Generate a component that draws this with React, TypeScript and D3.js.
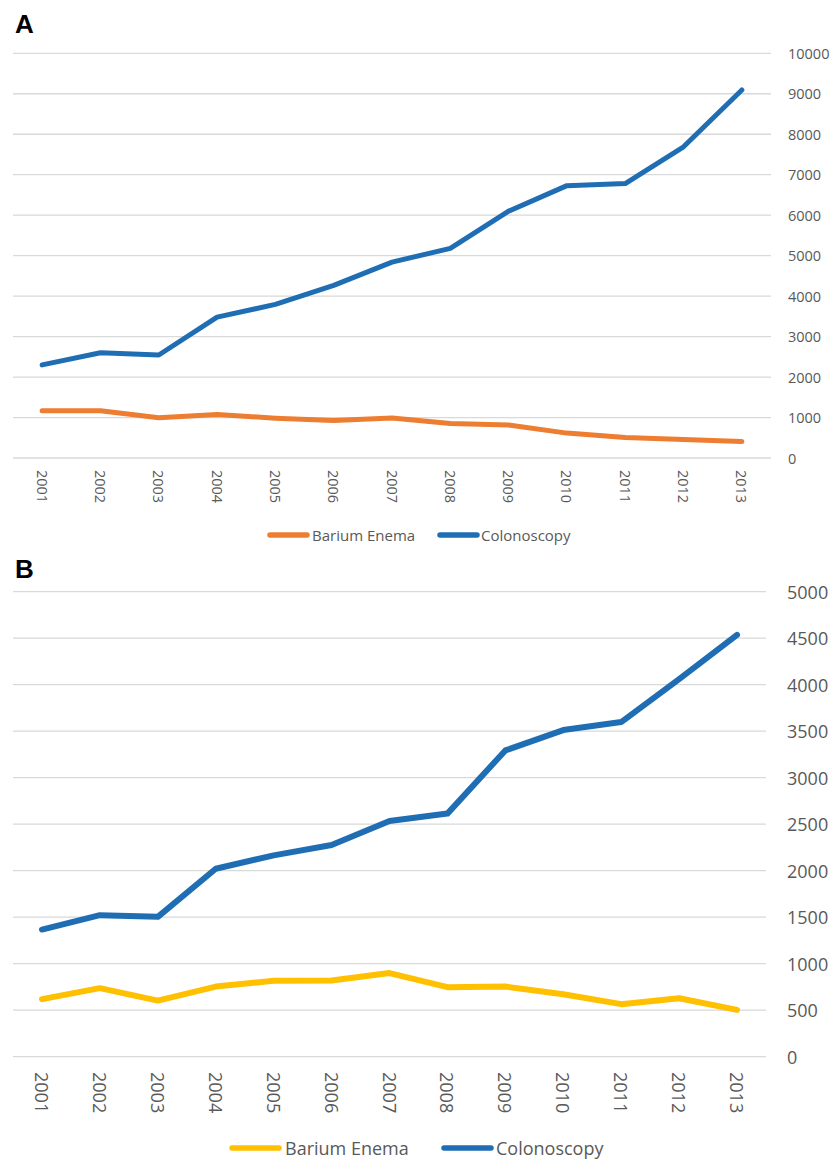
import React from "react";
import * as d3 from "d3";

const years = ["2001","2002","2003","2004","2005","2006","2007","2008","2009","2010","2011","2012","2013"];

const colonoscopyA = [2300, 2600, 2545, 3480, 3795, 4265, 4840, 5180, 6100, 6730, 6780, 7690, 9095];
const bariumA = [1165, 1165, 995, 1075, 985, 925, 990, 850, 815, 615, 505, 460, 405];

const colonoscopyB = [1367, 1522, 1504, 2021, 2165, 2276, 2534, 2614, 3293, 3512, 3598, 4060, 4536];
const bariumB = [619, 737, 603, 754, 816, 819, 899, 748, 754, 672, 565, 629, 503];

const ticksA = [0, 1000, 2000, 3000, 4000, 5000, 6000, 7000, 8000, 9000, 10000];
const ticksB = [0, 500, 1000, 1500, 2000, 2500, 3000, 3500, 4000, 4500, 5000];

const BLUE = "#1F6EB4";
const ORANGE = "#ED7D31";
const YELLOW = "#FFC000";
const GRID = "#D9D9D9";
const TEXT = "#595959";
const FONT = "'Open Sans', 'Liberation Sans', sans-serif";

type PanelProps = {
  letter: string;
  letterY: number;
  x0: number;
  x1: number;
  yTop: number;
  yBottom: number;
  ticks: number[];
  max: number;
  series: { name: string; values: number[]; color: string }[];
  fontSize: number;
  lineWidth: number;
  labelX: number;
  yearTop: number;
  legendY: number;
  legendItems: { lx: number; lw: number; tx: number }[];
  legendFont: number;
};

function Panel(p: PanelProps) {
  const x = d3.scaleBand<string>().domain(years).range([p.x0, p.x1]);
  const y = d3.scaleLinear().domain([0, p.max]).range([p.yBottom, p.yTop]);
  const cx = (d: string) => (x(d) as number) + x.bandwidth() / 2;
  const line = d3
    .line<number>()
    .x((_, i) => cx(years[i]))
    .y((v) => y(v));
  return (
    <g>
      <text x={15} y={p.letterY} fontFamily="'Liberation Sans', Arial, sans-serif" fontWeight="bold" fontSize={26} fill="#000">
        {p.letter}
      </text>
      {p.ticks.map((t) => (
        <g key={t}>
          <line x1={p.x0} x2={p.x1} y1={y(t)} y2={y(t)} stroke={GRID} strokeWidth={1.3} />
          <text x={p.labelX} y={y(t)} dominantBaseline="central" fontFamily={FONT} fontSize={p.fontSize} fill={TEXT}>
            {t}
          </text>
        </g>
      ))}
      {years.map((yr) => (
        <text
          key={yr}
          transform={`translate(${cx(yr)},${p.yearTop}) rotate(90)`}
          dominantBaseline="central"
          fontFamily={FONT}
          fontSize={p.fontSize}
          fill={TEXT}
        >
          {yr}
        </text>
      ))}
      {p.series.map((s) => (
        <path
          key={s.name}
          d={line(s.values) || ""}
          fill="none"
          stroke={s.color}
          strokeWidth={p.lineWidth}
          strokeLinejoin="round"
          strokeLinecap="round"
        />
      ))}
      {p.series.map((s, i) => {
        const it = p.legendItems[i];
        return (
          <g key={"lg" + s.name}>
            <line
              x1={it.lx}
              x2={it.lx + it.lw}
              y1={p.legendY}
              y2={p.legendY}
              stroke={s.color}
              strokeWidth={5.5}
              strokeLinecap="round"
            />
            <text x={it.tx} y={p.legendY} dominantBaseline="central" fontFamily={FONT} fontSize={p.legendFont} fill={TEXT}>
              {s.name}
            </text>
          </g>
        );
      })}
    </g>
  );
}

export default function App() {
  return (
    <svg width={832} height={1161} style={{ position: "absolute", left: 0, top: 0, background: "#fff" }}>
      <rect width={832} height={1161} fill="#fff" />
      <Panel
        letter="A"
        letterY={33}
        x0={13}
        x1={771}
        yTop={53.3}
        yBottom={458}
        ticks={ticksA}
        max={10000}
        series={[
          { name: "Barium Enema", values: bariumA, color: ORANGE },
          { name: "Colonoscopy", values: colonoscopyA, color: BLUE },
        ]}
        fontSize={14.5}
        lineWidth={5}
        labelX={788}
        yearTop={470}
        legendY={535}
        legendItems={[
          { lx: 270, lw: 37, tx: 312 },
          { lx: 440, lw: 37, tx: 481 },
        ]}
        legendFont={15}
      />
      <Panel
        letter="B"
        letterY={578}
        x0={13}
        x1={766}
        yTop={591.7}
        yBottom={1056.7}
        ticks={ticksB}
        max={5000}
        series={[
          { name: "Barium Enema", values: bariumB, color: YELLOW },
          { name: "Colonoscopy", values: colonoscopyB, color: BLUE },
        ]}
        fontSize={18}
        lineWidth={6}
        labelX={787}
        yearTop={1072}
        legendY={1148}
        legendItems={[
          { lx: 232, lw: 47, tx: 285 },
          { lx: 444, lw: 47, tx: 496 },
        ]}
        legendFont={18}
      />
    </svg>
  );
}
